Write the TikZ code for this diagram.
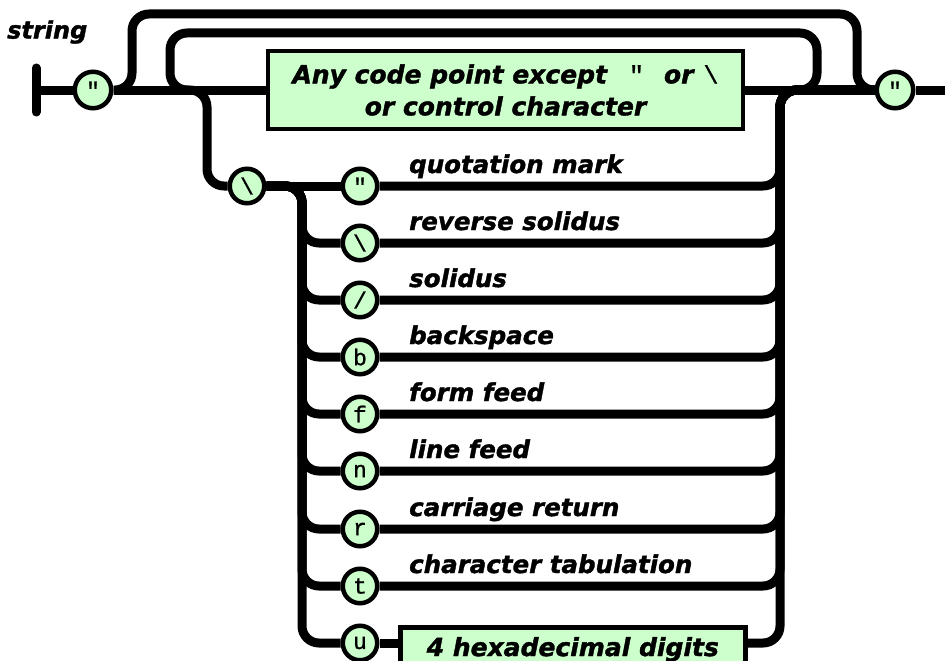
\documentclass[tikz,border=0pt]{standalone}
\usepackage{fontspec}
\newfontfamily\lblfont{DejaVu Sans}[BoldItalicFeatures={FakeBold=1.5}]
\newfontfamily\chfont{Liberation Mono}[FakeBold=1]
\usetikzlibrary{calc}
\definecolor{railgreen}{RGB}{204,255,204}
\pgfdeclarelayer{rails}
\pgfsetlayers{rails,main}

\begin{document}
\begin{tikzpicture}[x=1pt,y=-1pt,
  rail/.style={line width=9pt, rounded corners=17pt},
  term/.style={circle, draw, line width=4.5pt, fill=railgreen, minimum size=36.5pt,
    inner sep=0pt, font=\chfont\fontsize{23}{23}\selectfont},
  esc/.style={term, minimum size=34.5pt},
  nonterm/.style={rectangle, draw, line width=4.5pt, fill=railgreen, inner sep=0pt,
    font=\lblfont\bfseries\itshape\fontsize{25}{32}\selectfont, align=center},
  lbl/.style={anchor=base west, inner sep=0pt,
    font=\lblfont\bfseries\itshape\fontsize{24.5}{24.5}\selectfont}]

\useasboundingbox (0,0) rectangle (945,661);

% title
\node[lbl, anchor=west] (title) at (7,32) {\fontsize{24}{24}\selectfont string};

% entry bar and exit point
\coordinate (start) at (36,90);
\coordinate (finish) at (945,90);

% opening and closing quotes
\node[term] (q1) at (93,90) {"};
\node[term] (q2) at (895,90) {"};

% ordinary characters
\node[nonterm, minimum width=475pt, minimum height=78pt] (any) at (505.5,90)
  {Any code point except\hspace*{22pt}{\chfont\mdseries\upshape "}\hspace*{20pt}or\hspace*{10pt}{\chfont\mdseries\upshape\textbackslash}\\or control character};

% escape introducer
\node[esc] (bs) at (247,186) {\textbackslash};

% escape sequences
\foreach \n/\yy/\ch/\txt in {1/186/{"}/{quotation mark},
    2/243/{\textbackslash}/{reverse solidus},
    3/300/{/}/{solidus},
    4/357/{b}/{backspace},
    5/414/{f}/{form feed},
    6/471/{n}/{line feed},
    7/529/{r}/{carriage return},
    8/586/{t}/{character tabulation}} {
  \node[esc] (e\n) at (360,\yy) {\ch};
  \node[lbl] (l\n) at (409,\yy-13) {\txt};
}
\node[esc] (eu) at (360,643) {u};
\node[nonterm, anchor=north west, minimum width=345pt, minimum height=44pt] (hex)
  at (398,625) {4 hexadecimal digits};

% helper points on the rails
\coordinate (lv) at (302,0);     % left escape bus
\coordinate (rv) at (780,90);    % right escape bus joins the main line
\coordinate (inR) at (797,90);   % inner loop leaves the main line
\coordinate (inL) at (190,90);   % inner loop rejoins the main line
\coordinate (dn) at (185,90);    % branch down to the backslash

\begin{pgfonlayer}{rails}
  % entry bar
  \draw[line width=9pt, line cap=round] ($(start)+(0,-22)$) -- ($(start)+(0,22)$);
  % main line
  \draw[rail] (start) -- (q1.west);
  \draw[rail] (q1.east) -- (any.west);
  \draw[rail] (any.east) -- (q2.west);
  \draw[rail] (q2.east) -- (finish);
  % outer bypass (empty string)
  \draw[rail] (q1.east) -| (132,14) -| (857,90) -- (q2.west);
  % inner repeat loop
  \draw[rail] (inR) -| (817,33) -| (170,90) -- (inL);
  % branch to escape
  \draw[rail] (dn) -| (207,186) -- (bs.west);
  % left side of the escapes
  \draw[rail] (bs.east) -- (e1.west);
  \foreach \n in {2,...,8} {
    \draw[rail] (bs.east) -| (lv |- e\n) -- (e\n.west);
  }
  \draw[rail] (bs.east) -| (lv |- eu) -- (eu.west);
  % right side of the escapes
  \foreach \n in {1,...,8} {
    \draw[rail] (e\n.east) -| (rv) -- (q2.west);
  }
  \draw[rail] (eu.east) -- (eu.east -| hex.west);
  \draw[rail] (hex.east |- eu) -| (rv) -- (q2.west);
\end{pgfonlayer}
\end{tikzpicture}
\end{document}
